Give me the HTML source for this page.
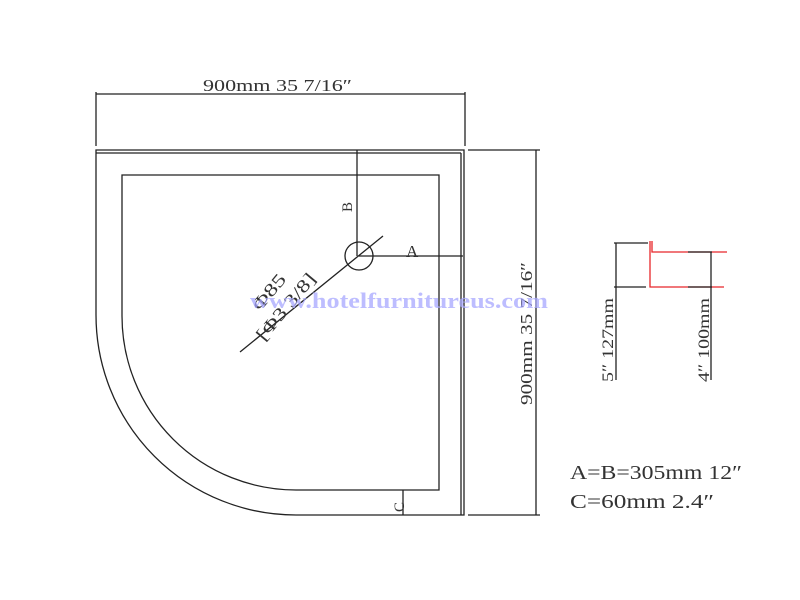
<!DOCTYPE html>
<html><head><meta charset="utf-8"><style>
html,body{margin:0;padding:0;background:#fff;width:800px;height:600px;overflow:hidden}
text{font-family:"Liberation Serif",serif;fill:#333}
</style></head><body>
<svg width="800" height="600" viewBox="0 0 800 600" xmlns="http://www.w3.org/2000/svg">
<g fill="none" stroke="#222" stroke-width="1.3">
<line x1="96" y1="92" x2="96" y2="146"/>
<line x1="465" y1="92" x2="465" y2="146"/>
<line x1="96" y1="94" x2="465" y2="94"/>
<path d="M296 515 A200 200 0 0 1 96 315 L96 150 L464 150 L464 515 Z"/>
<line x1="96" y1="153" x2="461" y2="153"/>
<line x1="461" y1="153" x2="461" y2="515"/>
<path d="M296 490 A174 174 0 0 1 122 316 L122 175 L439 175 L439 490 Z"/>
<line x1="468" y1="150" x2="540" y2="150"/>
<line x1="468" y1="515" x2="540" y2="515"/>
<line x1="536" y1="150" x2="536" y2="515"/>
<line x1="357" y1="150" x2="357" y2="256"/>
<line x1="359" y1="256" x2="463" y2="256"/>
<circle cx="359" cy="256" r="14"/>
<line x1="240" y1="352" x2="383" y2="236"/>
<line x1="403" y1="490" x2="403" y2="515"/>
<line x1="616" y1="243" x2="616" y2="380"/>
<line x1="614" y1="243" x2="648" y2="243"/>
<line x1="614" y1="287" x2="646" y2="287"/>
<line x1="711" y1="252" x2="711" y2="380"/>
</g>
<g fill="none" stroke="#e8262a" stroke-width="1.3">
<polyline points="650,241 650,287 724,287"/>
<polyline points="652,241 652,252 727,252"/>
</g>
<g stroke="#222" stroke-width="1.3">
<line x1="688" y1="252" x2="712" y2="252"/>
<line x1="688" y1="287" x2="712" y2="287"/>
</g>
<text x="203" y="91" font-size="17" textLength="149" lengthAdjust="spacingAndGlyphs">900mm  35 7/16″</text>
<text transform="translate(532,405) rotate(-90)" font-size="17" textLength="143" lengthAdjust="spacingAndGlyphs">900mm  35 7/16″</text>
<text transform="translate(352,212) rotate(-90)" font-size="15">B</text>
<text x="406" y="257" font-size="17">A</text>
<text transform="translate(404,512) rotate(-90)" font-size="15">C</text>
<text transform="translate(260,312) rotate(-50)" font-size="18" textLength="42" lengthAdjust="spacingAndGlyphs">Φ85</text>
<text transform="translate(264,342) rotate(-50)" font-size="18" textLength="82" lengthAdjust="spacingAndGlyphs">[Φ3 3/8]</text>
<text transform="translate(613,382) rotate(-90)" font-size="16" textLength="84" lengthAdjust="spacingAndGlyphs">5″ 127mm</text>
<text transform="translate(709,382) rotate(-90)" font-size="16" textLength="84" lengthAdjust="spacingAndGlyphs">4″ 100mm</text>
<text x="570" y="479" font-size="20" textLength="172" lengthAdjust="spacingAndGlyphs">A=B=305mm 12″</text>
<text x="570" y="508" font-size="20" textLength="144" lengthAdjust="spacingAndGlyphs">C=60mm 2.4″</text>
<text x="250" y="308" font-size="22" textLength="298" lengthAdjust="spacingAndGlyphs" style="fill:#a8a8ff;font-weight:bold;opacity:0.75">www.hotelfurnitureus.com</text>
</svg>
</body></html>
